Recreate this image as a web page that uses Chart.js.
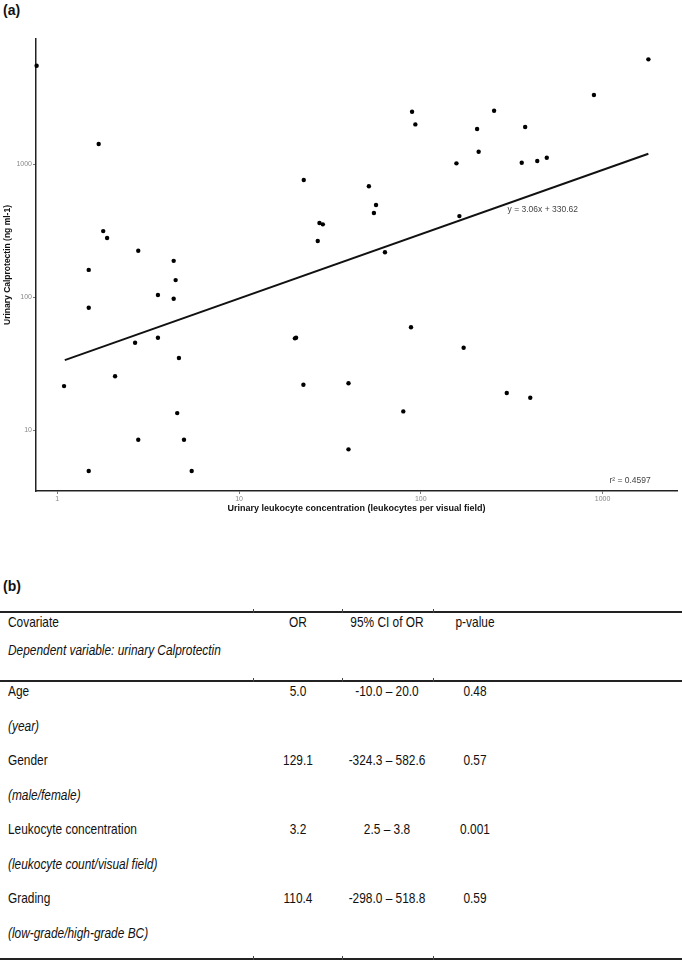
<!DOCTYPE html>
<html>
<head>
<meta charset="utf-8">
<script src="https://cdn.jsdelivr.net/npm/chart.js@4.4.1/dist/chart.umd.min.js"></script>
<style>
body { margin: 0; width: 682px; height: 960px; position: relative; background: #fff; overflow: hidden;
       font-family: "Liberation Sans", Arial, sans-serif; color: #111; }
#plot { position: absolute; left: 0; top: 0; }
.panel { position: absolute; left: 3px; font-weight: bold; font-size: 14px; }
.cell { position: absolute; font-size: 14.5px; line-height: 18px; white-space: nowrap; }
.rule { position: absolute; left: 0; width: 682px; background: #222; }
.mark { position: absolute; width: 1px; height: 4px; background: #444; }
</style>
</head>
<body>
<div class="panel" style="top:2px">(a)</div>
<canvas id="plot" width="682" height="520"></canvas>
<div class="panel" style="top:578px">(b)</div>

<script>
// Urinary leukocytes (per visual field) vs urinary Calprotectin (ng/ml)
const leukocytes = [0.77, 1.69, 1.79, 1.88, 2.79, 1.49, 4.37, 4.48, 3.58, 4.37,
    1.49, 2.68, 3.58, 4.67, 1.09, 2.08, 4.57, 2.79, 4.98, 1.49, 5.49,
    22.7, 51.8, 56.7, 55.2, 27.7, 28.9, 27.1, 63.5, 89.5, 93.3,
    157, 163, 204, 208, 253, 359, 375, 437, 493, 896, 1786,
    20.3, 20.6, 22.6, 40.0, 40.0, 88.3, 80.1, 172, 297, 400]
const calprotectin = [5480, 1413, 313, 278, 223, 160, 187, 134, 103.5, 97,
    83, 45.3, 49.4, 34.8, 21.4, 25.4, 13.4, 8.46, 8.46, 4.92, 4.92,
    759, 680, 492, 428, 360, 352, 264, 217, 2470, 1986,
    1012, 406, 1832, 1237, 2518, 1023, 1897, 1053, 1115, 3303, 6125,
    48.9, 49.5, 21.9, 22.5, 7.16, 59.2, 13.8, 41.6, 19.0, 17.5]

// regression line end points
const fitX = [1.1, 1786]
const fitY = [33.6, 1195]

const xTicks = [1, 10, 100, 1000]
const yTicks = [10, 100, 1000]

const eqText = 'y = 3.06x + 330.62'
const r2Text = 'r\u00b2 = 0.4597'

// table (b)
const headers = ['Covariate', 'OR', '95% CI of OR', 'p-value']
const dependentText = 'Dependent variable: urinary Calprotectin'
const covariates = ['Age', 'Gender', 'Leukocyte concentration', 'Grading']
const covUnits = ['(year)', '(male/female)', '(leukocyte count/visual field)', '(low-grade/high-grade BC)']
const orValues = ['5.0', '129.1', '3.2', '110.4']
const ciValues = ['-10.0 \u2013 20.0', '-324.3 \u2013 582.6', '2.5 \u2013 3.8', '-298.0 \u2013 518.8']
const pValues = ['0.48', '0.57', '0.001', '0.59']


function toPoints(xs, ys) {
    let pts = []
    xs.forEach(function (x, i) {
        pts.push({x: x, y: ys[i]})
    })
    return pts
}

// equation and r2 text inside the plot
const textLabels = {
    id: 'textLabels',
    afterDatasetsDraw(chart) {
        const ctx = chart.ctx
        const x = chart.scales.x
        const y = chart.scales.y
        ctx.save()
        ctx.fillStyle = '#444'
        ctx.font = '8.5px "Liberation Sans", Arial, sans-serif'
        ctx.textBaseline = 'middle'
        ctx.fillText(eqText, x.getPixelForValue(300), y.getPixelForValue(451))
        ctx.textAlign = 'right'
        ctx.fillText(r2Text, x.getPixelForValue(1840), y.getPixelForValue(4.15))
        ctx.restore()
    }
}

const tickFont = {family: '"Liberation Sans", Arial, sans-serif', size: 7}

const config = {
    type: 'scatter',
    data: {
        datasets: [{
            data: toPoints(leukocytes, calprotectin),
            backgroundColor: '#000',
            borderColor: '#000',
            pointRadius: 2.2,
            pointBorderWidth: 0,
            clip: false
        },
        {
            type: 'line',
            data: toPoints(fitX, fitY),
            borderColor: '#111',
            borderWidth: 1.9,
            pointRadius: 0,
            fill: false
        }]
    },
    options: {
        responsive: false,
        animation: false,
        devicePixelRatio: 1,
        layout: {padding: {top: 39, right: 5, left: 0, bottom: 0}},
        plugins: {
            legend: {display: false},
            tooltip: {enabled: false}
        },
        scales: {
            x: {
                type: 'logarithmic',
                bounds: 'data',
                min: 0.764,
                max: 2566,
                afterBuildTicks: function (scale) {
                    scale.ticks = xTicks.map(v => ({value: v}))
                },
                afterFit: function (scale) { scale.height = 29 },
                ticks: {
                    color: '#888', font: tickFont, padding: 1, maxRotation: 0,
                    callback: v => String(v)
                },
                grid: {drawOnChartArea: false, drawTicks: true, tickLength: 3, color: '#777'},
                border: {display: true, color: '#222', width: 1.5},
                title: {
                    display: true,
                    text: 'Urinary leukocyte concentration (leukocytes per visual field)',
                    color: '#111',
                    font: {family: '"Liberation Sans", Arial, sans-serif', size: 9, weight: 'bold'},
                    padding: {top: 0, bottom: 6}
                }
            },
            y: {
                type: 'logarithmic',
                bounds: 'data',
                min: 3.48,
                max: 8710,
                afterBuildTicks: function (scale) {
                    scale.ticks = yTicks.map(v => ({value: v}))
                },
                afterFit: function (scale) { scale.width = 36 },
                ticks: {
                    color: '#888', font: tickFont, padding: 1,
                    callback: v => String(v)
                },
                grid: {drawOnChartArea: false, drawTicks: true, tickLength: 3, color: '#777'},
                border: {display: true, color: '#222', width: 1.5},
                title: {
                    display: true,
                    text: 'Urinary Calprotectin (ng ml-1)',
                    color: '#111',
                    font: {family: '"Liberation Sans", Arial, sans-serif', size: 8.5, weight: 'bold'},
                    padding: {top: 3, bottom: 0}
                }
            }
        }
    },
    plugins: [textLabels]
}

new Chart(document.getElementById('plot'), config)


// ---- table (b) ----
// no narrow font installed, so squeeze the regular one
const colCenters = [null, 298, 387, 475]
const colMarks = [253, 342, 433]
const squeeze = 0.82

function addText(txt, x, yMid, center, italic) {
    const el = document.createElement('div')
    el.className = 'cell'
    el.textContent = txt
    el.style.top = (yMid - 9) + 'px'
    if (center) {
        el.style.left = (x - 100) + 'px'
        el.style.width = '200px'
        el.style.textAlign = 'center'
        el.style.transformOrigin = 'center'
    } else {
        el.style.left = x + 'px'
        el.style.transformOrigin = 'left center'
    }
    el.style.transform = 'scaleX(' + squeeze + ')'
    if (italic) el.style.fontStyle = 'italic'
    document.body.appendChild(el)
}

function addRule(y, h) {
    const el = document.createElement('div')
    el.className = 'rule'
    el.style.top = y + 'px'
    el.style.height = h + 'px'
    document.body.appendChild(el)
    colMarks.forEach(function (mx) {
        const m = document.createElement('div')
        m.className = 'mark'
        m.style.left = mx + 'px'
        m.style.top = (y - 2) + 'px'
        document.body.appendChild(m)
    })
}

addRule(611, 2)
addRule(680, 1.5)
addRule(958, 2)

headers.forEach(function (h, i) {
    if (i === 0) addText(h, 8, 622, false, false)
    else addText(h, colCenters[i], 622, true, false)
})
addText(dependentText, 8, 650, false, true)

for (let i = 0; i < covariates.length; i++) {
    const rowY = 691 + i * 69
    addText(covariates[i], 8, rowY, false, false)
    addText(orValues[i], colCenters[1], rowY, true, false)
    addText(ciValues[i], colCenters[2], rowY, true, false)
    addText(pValues[i], colCenters[3], rowY, true, false)
    addText(covUnits[i], 8, rowY + 35, false, true)
}
</script>
</body>
</html>
